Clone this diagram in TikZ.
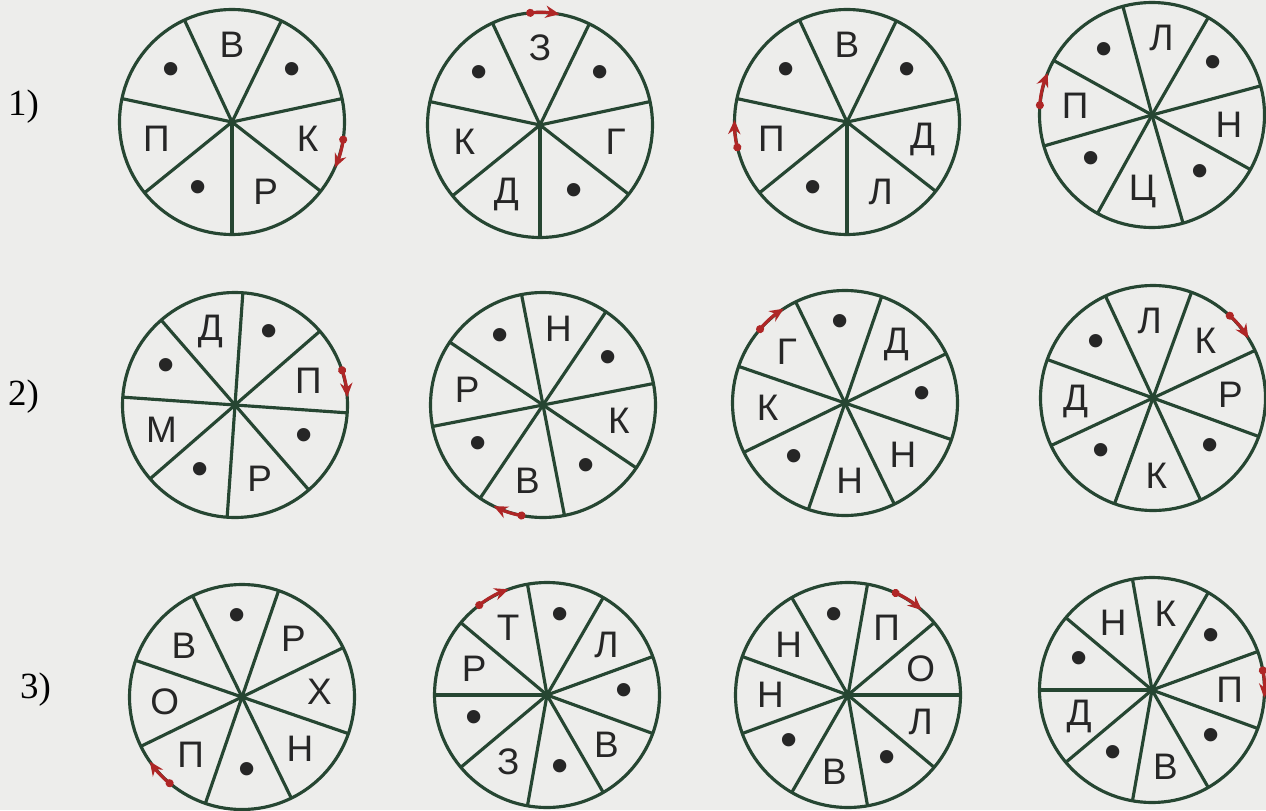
\documentclass[tikz,border=0pt]{standalone}
\usepackage{fontspec}
\setmainfont{Liberation Serif}
\newfontfamily\letterfont{Liberation Sans}
\usetikzlibrary{arrows.meta}
\definecolor{wheelgreen}{RGB}{38,70,50}
\definecolor{cuered}{RGB}{175,38,38}
\definecolor{paper}{RGB}{237,237,235}
\newcommand\pip{\fontsize{28}{28}\selectfont •}

\begin{document}
\begin{tikzpicture}[
    x=0.2mm, y=0.2mm,
    wheel/.style={circle, draw=wheelgreen, line width=1.8pt, minimum size=45mm, inner sep=0pt, outer sep=0pt},
    spoke/.style={wheelgreen, line width=1.8pt},
    letter/.style={font=\letterfont\fontsize{21}{25}\selectfont, text=black!85, inner sep=0pt},
    cue/.style={cuered, line width=1.8pt, {Circle[length=4.5pt]}-{Stealth[length=8pt,width=7pt]}},
    rowmark/.style={font=\fontsize{21}{24}\selectfont, anchor=west}
]

% Page
\fill[paper] (0,0) rectangle (1266,810);
\useasboundingbox (0,0) rectangle (1266,810);

% Row labels
\node[rowmark] (r1) at (2,703) {1)};
\node[rowmark] (r2) at (2,413) {2)};
\node[rowmark] (r3) at (14,120) {3)};

% Define wheels
\node[wheel] (w1) at (232,688) {};
\node[wheel] (w2) at (540,685) {};
\node[wheel] (w3) at (847,688) {};
\node[wheel] (w4) at (1152,695) {};
\node[wheel] (w5) at (235,405) {};
\node[wheel] (w6) at (543,405) {};
\node[wheel] (w7) at (845,407) {};
\node[wheel] (w8) at (1153,412) {};
\node[wheel] (w9) at (242,113) {};
\node[wheel] (w10) at (547,115) {};
\node[wheel] (w11) at (848,115) {};
\node[wheel] (w12) at (1152,120) {};

% Row 1
\foreach \k [evaluate=\k as \a using 90+180/7-\k*360/7] in {0,...,6}
    \draw[spoke] (w1.center) -- (w1.\a);
\foreach \t [count=\k from 0] in {В,\pip,К,Р,\pip,П,\pip}
    \path (w1.center) ++({90-\k*360/7}:15.5mm) node[letter] (w1-\k) {\t};
\foreach \k [evaluate=\k as \a using 90+180/7-\k*360/7] in {0,...,6}
    \draw[spoke] (w2.center) -- (w2.\a);
\foreach \t [count=\k from 0] in {З,\pip,Г,\pip,Д,К,\pip}
    \path (w2.center) ++({90-\k*360/7}:15.5mm) node[letter] (w2-\k) {\t};
\foreach \k [evaluate=\k as \a using 90+180/7-\k*360/7] in {0,...,6}
    \draw[spoke] (w3.center) -- (w3.\a);
\foreach \t [count=\k from 0] in {В,\pip,Д,Л,\pip,П,\pip}
    \path (w3.center) ++({90-\k*360/7}:15.5mm) node[letter] (w3-\k) {\t};
\foreach \k [evaluate=\k as \a using 83+22.5-\k*45] in {0,...,7}
    \draw[spoke] (w4.center) -- (w4.\a);
\foreach \t [count=\k from 0] in {Л,\pip,Н,\pip,Ц,\pip,П,\pip}
    \path (w4.center) ++({83-\k*45}:15.5mm) node[letter] (w4-\k) {\t};

% Row 2
\foreach \k [evaluate=\k as \a using 108.5+22.5-\k*45] in {0,...,7}
    \draw[spoke] (w5.center) -- (w5.\a);
\foreach \t [count=\k from 0] in {Д,\pip,П,\pip,Р,\pip,М,\pip}
    \path (w5.center) ++({108.5-\k*45}:15.5mm) node[letter] (w5-\k) {\t};
\foreach \k [evaluate=\k as \a using 78.5+22.5-\k*45] in {0,...,7}
    \draw[spoke] (w6.center) -- (w6.\a);
\foreach \t [count=\k from 0] in {Н,\pip,К,\pip,В,\pip,Р,\pip}
    \path (w6.center) ++({78.5-\k*45}:15.5mm) node[letter] (w6-\k) {\t};
\foreach \k [evaluate=\k as \a using 93.5+22.5-\k*45] in {0,...,7}
    \draw[spoke] (w7.center) -- (w7.\a);
\foreach \t [count=\k from 0] in {\pip,Д,\pip,Н,Н,\pip,К,Г}
    \path (w7.center) ++({93.5-\k*45}:15.5mm) node[letter] (w7-\k) {\t};
\foreach \k [evaluate=\k as \a using 92.5+22.5-\k*45] in {0,...,7}
    \draw[spoke] (w8.center) -- (w8.\a);
\foreach \t [count=\k from 0] in {Л,К,Р,\pip,К,\pip,Д,\pip}
    \path (w8.center) ++({92.5-\k*45}:15.5mm) node[letter] (w8-\k) {\t};

% Row 3
\foreach \k [evaluate=\k as \a using 93.5+22.5-\k*45] in {0,...,7}
    \draw[spoke] (w9.center) -- (w9.\a);
\foreach \t [count=\k from 0] in {\pip,Р,Х,Н,\pip,П,О,В}
    \path (w9.center) ++({93.5-\k*45}:15.5mm) node[letter] (w9-\k) {\t};
\foreach \k [evaluate=\k as \a using 80+20-\k*40] in {0,...,8}
    \draw[spoke] (w10.center) -- (w10.\a);
\foreach \t [count=\k from 0] in {\pip,Л,\pip,В,\pip,З,\pip,Р,Т}
    \path (w10.center) ++({80-\k*40}:15.5mm) node[letter] (w10-\k) {\t};
\foreach \k [evaluate=\k as \a using 100+20-\k*40] in {0,...,8}
    \draw[spoke] (w11.center) -- (w11.\a);
\foreach \t [count=\k from 0] in {\pip,П,О,Л,\pip,В,\pip,Н,Н}
    \path (w11.center) ++({100-\k*40}:15.5mm) node[letter] (w11-\k) {\t};
\foreach \k [evaluate=\k as \a using 80+20-\k*40] in {0,...,8}
    \draw[spoke] (w12.center) -- (w12.\a);
\foreach \t [count=\k from 0] in {К,\pip,П,\pip,В,\pip,Д,\pip,Н}
    \path (w12.center) ++({80-\k*40}:15.5mm) node[letter] (w12-\k) {\t};

% Red arrows
\draw[cue] (w1.-7) arc[start angle=-7, end angle=-24, radius=22.5mm];
\draw[cue] (w2.97) arc[start angle=97, end angle=80, radius=22.5mm];
\draw[cue] (w3.195) arc[start angle=195, end angle=179, radius=22.5mm];
\draw[cue] (w4.177) arc[start angle=177, end angle=158, radius=22.5mm];
\draw[cue] (w5.20) arc[start angle=20, end angle=4, radius=22.5mm];
\draw[cue] (w6.261) arc[start angle=261, end angle=244, radius=22.5mm];
\draw[cue] (w7.141) arc[start angle=141, end angle=123, radius=22.5mm];
\draw[cue] (w8.49) arc[start angle=49, end angle=32, radius=22.5mm];
\draw[cue] (w9.232) arc[start angle=232, end angle=215, radius=22.5mm];
\draw[cue] (w10.129) arc[start angle=129, end angle=110, radius=22.5mm];
\draw[cue] (w11.67) arc[start angle=67, end angle=49, radius=22.5mm];
\draw[cue] (w12.12) arc[start angle=12, end angle=-4, radius=22.5mm];

\end{tikzpicture}
\end{document}
